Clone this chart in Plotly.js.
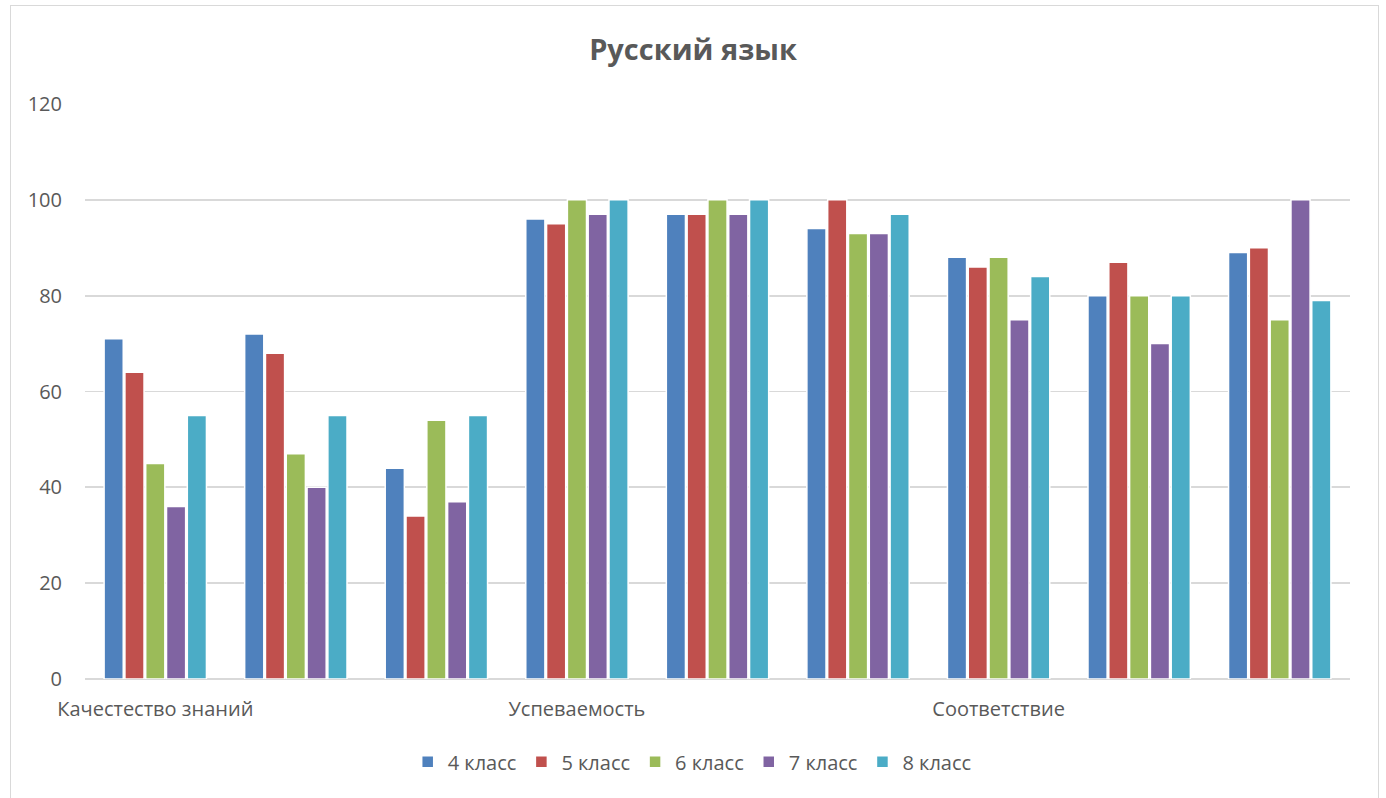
<!DOCTYPE html>
<html>
<head>
<meta charset="utf-8">
<script src="https://cdn.plot.ly/plotly-3.0.1.min.js"></script>
<style>
html,body{margin:0;padding:0;background:#fff;}
#wrap{position:relative;width:1386px;height:798px;}
#chart{width:1386px;height:798px;}
#frame{position:absolute;left:10px;top:5px;width:1367px;height:800px;border:1px solid #d9d9d9;pointer-events:none;}
</style>
</head>
<body>
<div id="wrap"><div id="chart"></div><div id="frame"></div></div>
<script>
const categories = ["Качестество знаний", "", "", "Успеваемость", "", "", "Соответствие", "", ""];
const seriesNames = ["4 класс", "5 класс", "6 класс", "7 класс", "8 класс"];
const grade4 = [71, 72, 44, 96, 97, 94, 88, 80, 89];
const grade5 = [64, 68, 34, 95, 97, 100, 86, 87, 90];
const grade6 = [45, 47, 54, 100, 100, 93, 88, 80, 75];
const grade7 = [36, 40, 37, 97, 97, 93, 75, 70, 100];
const grade8 = [55, 55, 55, 100, 100, 97, 84, 80, 79];
const colors = ["#4F81BD", "#C0504D", "#9BBB59", "#8064A2", "#4BACC6"];

const values = [grade4, grade5, grade6, grade7, grade8];
const xIdx = categories.map((_, i) => i);
const labelIdx = xIdx.filter(i => categories[i] !== "");
const traces = values.map((v, k) => ({
  type: "bar",
  name: seriesNames[k],
  x: xIdx,
  y: v,
  marker: {color: colors[k], line: {color: "#ffffff", width: 1.5}},
  hoverinfo: "y+name"
}));

const font = "Open Sans, Noto Sans, sans-serif";
const layout = {
  width: 1386, height: 798,
  margin: {l: 85, r: 36, t: 104, b: 119},
  paper_bgcolor: "#ffffff", plot_bgcolor: "#ffffff",
  title: {text: "<b>Русский язык</b>", x: 0.5, xanchor: "center", y: 0.938, yanchor: "middle",
          font: {family: font, size: 29, color: "#595959"}},
  barmode: "group",
  bargap: 0.26,
  bargroupgap: 0.08,
  showlegend: true,
  legend: {orientation: "h", x: 0.48, xanchor: "center", y: -0.11, yanchor: "top",
           font: {family: font, size: 20, color: "#595959"}, itemwidth: 30, traceorder: "normal"},
  xaxis: {
    range: [-0.5, 8.5],
    tickmode: "array", tickvals: labelIdx, ticktext: labelIdx.map(i => categories[i]),
    showgrid: false, zeroline: false, showline: false, ticks: "",
    ticklabelstandoff: 16,
    tickfont: {family: font, size: 20, color: "#595959"}
  },
  yaxis: {
    range: [0, 120], dtick: 20, tick0: 0,
    showgrid: true, gridcolor: "#d9d9d9", gridwidth: 1.8,
    zeroline: true, zerolinecolor: "#d9d9d9", zerolinewidth: 1.8,
    showline: false, ticks: "",
    ticklabelstandoff: 22,
    tickfont: {family: font, size: 20, color: "#595959"}
  }
};
Plotly.newPlot("chart", traces, layout, {displayModeBar: false, staticPlot: true});
</script>
</body>
</html>
